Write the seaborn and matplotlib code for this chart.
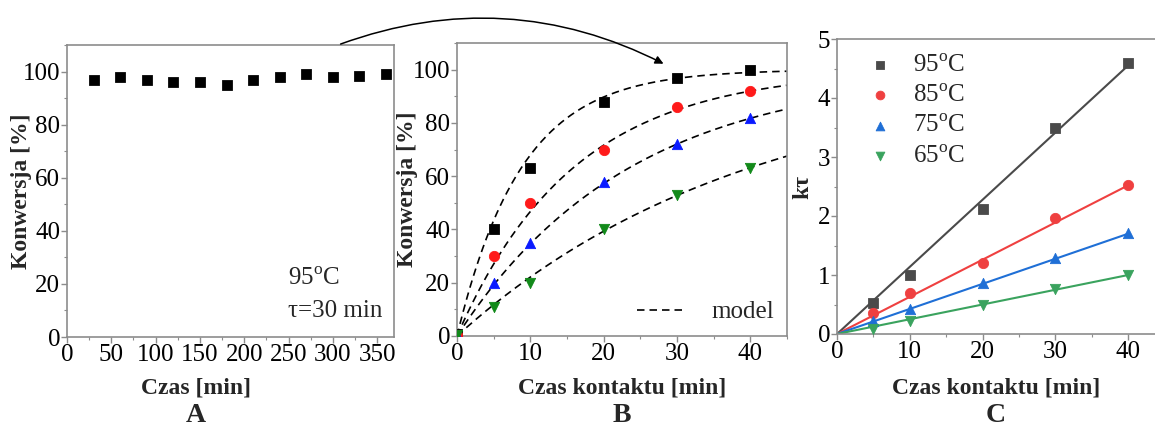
import numpy as np
import pandas as pd
import matplotlib
matplotlib.use("Agg")
import matplotlib.pyplot as plt
from matplotlib.ticker import MultipleLocator
import seaborn as sns

# ─── Data ────────────────────────────────────────────────────────────────────
# Panel A: stability test at 95 C
czas_a = [30, 60, 90, 120, 150, 180, 210, 240, 270, 300, 330, 360]
konw_a = [97, 98, 97, 96, 96, 95, 97, 98, 99, 98, 98.5, 99]

# Panel B: conversion vs contact time
czas_b = [0, 5, 10, 20, 30, 40]
konw_95 = [0.8, 40, 63, 88, 97, 100]
konw_85 = [0.5, 30, 50, 70, 86, 92]
konw_75 = [0.5, 20, 35, 58, 72, 82]
konw_65 = [0.5, 11, 20, 40, 53, 63]

# Panel C: k*tau vs contact time
czas_c = [5, 10, 20, 30, 40]
kt_95 = [0.52, 1.0, 2.12, 3.5, 4.6]
kt_85 = [0.36, 0.7, 1.2, 1.97, 2.52]
kt_75 = [0.22, 0.43, 0.86, 1.28, 1.71]
kt_65 = [0.08, 0.22, 0.5, 0.77, 1.0]

# fitted rate constants [1/min] (slopes of the lines in C)
temps = ["95", "85", "75", "65"]
k_fit = [0.1138, 0.063, 0.0425, 0.025]

# ─── Style ───────────────────────────────────────────────────────────────────
sns.set_theme(style="ticks")
plt.rcParams["font.family"] = ["Liberation Serif", "DejaVu Serif"]
plt.rcParams["mathtext.fontset"] = "custom"
plt.rcParams["mathtext.rm"] = "Liberation Serif"
plt.rcParams["axes.edgecolor"] = "#8c8c8c"
plt.rcParams["xtick.color"] = "#8c8c8c"
plt.rcParams["ytick.color"] = "#8c8c8c"
plt.rcParams["xtick.labelcolor"] = "black"
plt.rcParams["ytick.labelcolor"] = "black"

FS_TICK = 18
FS_LAB = 17

markers = ["s", "o", "^", "v"]
colors_b = ["black", "#ff1a1a", "#0a1aff", "#128a1a"]
colors_c = ["#4a4a4a", "#ef4040", "#1f6fd6", "#3aa35e"]

W, H = 1155, 428
fig = plt.figure(figsize=(W / 100, H / 100), dpi=100)

BOX_A = (67, 45, 394, 337)
BOX_B = (457, 43, 787, 336)
BOX_C = (837, 39, 837 + 45 * 7.28, 334)


def px_axes(box):
    left, top, right, bottom = box
    return fig.add_axes([left / W, 1 - bottom / H, (right - left) / W, (bottom - top) / H])


def style_axes(ax):
    ax.tick_params(which="major", direction="out", length=4, width=1, labelsize=FS_TICK, pad=1)
    ax.tick_params(which="minor", direction="out", length=2.5, width=0.8)
    for sp in ax.spines.values():
        sp.set_linewidth(1.2)


# ─── Panel A ────────────────────────────────────────────────────────────────
ax_a = px_axes(BOX_A)
df_a = pd.DataFrame({"czas": czas_a, "konw": konw_a})
sns.scatterplot(data=df_a, x="czas", y="konw", marker="s", s=50, color="black",
                edgecolor="black", ax=ax_a)
ax_a.set_xlim(0, 369)
ax_a.set_ylim(0, 110)
ax_a.xaxis.set_major_locator(MultipleLocator(50))
ax_a.xaxis.set_minor_locator(MultipleLocator(25))
ax_a.yaxis.set_major_locator(MultipleLocator(20))
ax_a.yaxis.set_minor_locator(MultipleLocator(10))
style_axes(ax_a)
ax_a.text(0.675, 0.2, "95$^{\\rm o}$C", transform=ax_a.transAxes, fontsize=FS_TICK, va="center")
ax_a.text(0.675, 0.09, "\u03c4=30 min", transform=ax_a.transAxes, fontsize=FS_TICK, va="center")
ax_a.set_xlabel("Czas [min]", fontsize=FS_LAB, fontweight="bold")
ax_a.set_ylabel("Konwersja [%]", fontsize=FS_LAB, fontweight="bold")

# ─── Panel B ────────────────────────────────────────────────────────────────
ax_b = px_axes(BOX_B)
konw_b = [konw_95, konw_85, konw_75, konw_65]
t_model = np.linspace(0, 45, 200)
for i, t in enumerate(temps):
    model = pd.DataFrame({"t": t_model, "X": 100 * (1 - np.exp(-k_fit[i] * t_model))})
    sns.lineplot(data=model, x="t", y="X", color="black", linestyle=(0, (4.5, 3)),
                 linewidth=1.2, ax=ax_b, label="model" if i == 0 else None)
for i, t in enumerate(temps):
    df_b = pd.DataFrame({"czas": czas_b, "konw": konw_b[i]})
    sns.scatterplot(data=df_b, x="czas", y="konw", marker=markers[i], s=55,
                    color=colors_b[i], edgecolor=colors_b[i], ax=ax_b, zorder=3)
ax_b.set_xlim(0, 45)
ax_b.set_ylim(0, 110)
ax_b.xaxis.set_major_locator(MultipleLocator(10))
ax_b.xaxis.set_minor_locator(MultipleLocator(5))
ax_b.yaxis.set_major_locator(MultipleLocator(20))
ax_b.yaxis.set_minor_locator(MultipleLocator(10))
style_axes(ax_b)
ax_b.legend(loc="lower right", frameon=False, fontsize=FS_TICK, handlelength=2.0,
            handletextpad=1.0, borderaxespad=0.1, bbox_to_anchor=(1.0, 0.0))
ax_b.set_xlabel("Czas kontaktu [min]", fontsize=FS_LAB, fontweight="bold")
ax_b.set_ylabel("Konwersja [%]", fontsize=FS_LAB, fontweight="bold")

# ─── Panel C ────────────────────────────────────────────────────────────────
ax_c = px_axes(BOX_C)
kt_c = [kt_95, kt_85, kt_75, kt_65]
for i, t in enumerate(temps):
    fit = pd.DataFrame({"t": [0, 40], "kt": [0, 40 * k_fit[i]]})
    sns.lineplot(data=fit, x="t", y="kt", color=colors_c[i], linewidth=1.5, ax=ax_c)
for i, t in enumerate(temps):
    df_c = pd.DataFrame({"czas": czas_c, "kt": kt_c[i]})
    sns.scatterplot(data=df_c, x="czas", y="kt", marker=markers[i], s=55,
                    color=colors_c[i], edgecolor=colors_c[i], ax=ax_c, zorder=3,
                    label=f"{t}$^{{\\rm o}}$C")
ax_c.set_xlim(0, 45)
ax_c.set_ylim(0, 5)
ax_c.xaxis.set_major_locator(MultipleLocator(10))
ax_c.xaxis.set_minor_locator(MultipleLocator(5))
ax_c.yaxis.set_major_locator(MultipleLocator(1))
ax_c.yaxis.set_minor_locator(MultipleLocator(0.5))
style_axes(ax_c)
ax_c.legend(loc="upper left", frameon=False, fontsize=FS_TICK, handletextpad=0.3,
            labelspacing=0.32, borderaxespad=0.2, markerscale=0.85,
            bbox_to_anchor=(0.01, 1.0))
ax_c.set_xlabel("Czas kontaktu [min]", fontsize=FS_LAB, fontweight="bold")
ax_c.set_ylabel("k\u03c4", fontsize=FS_LAB, fontweight="bold")

# label positions (pixel-based)
for ax, box, xlab_x, ylab_x in [(ax_a, BOX_A, 196, 22),
                                (ax_b, BOX_B, 622, 408),
                                (ax_c, BOX_C, 996, 803)]:
    l, t, r, b = box
    wpx, hpx = r - l, b - t
    ax.xaxis.set_label_coords((xlab_x - l) / wpx, (b - 388) / hpx)
    ax.xaxis.label.set_va("center")
    ax.yaxis.set_label_coords((ylab_x - l) / wpx, 0.5)
    ax.yaxis.label.set_va("center")

# panel letters
for x, letter in [(196, "A"), (622, "B"), (996, "C")]:
    fig.text(x / W, 1 - 416 / H, letter, fontsize=20, fontweight="bold",
             ha="center", va="center")

# arrow from panel A to panel B
fig.add_artist(matplotlib.patches.FancyArrowPatch(
    (338 / W, 1 - 45 / H), (666 / W, 1 - 65 / H), transform=fig.transFigure,
    connectionstyle="arc3,rad=-0.22", arrowstyle="-|>", mutation_scale=12,
    color="black", linewidth=1.1))

fig.savefig("out.png", dpi=100)
